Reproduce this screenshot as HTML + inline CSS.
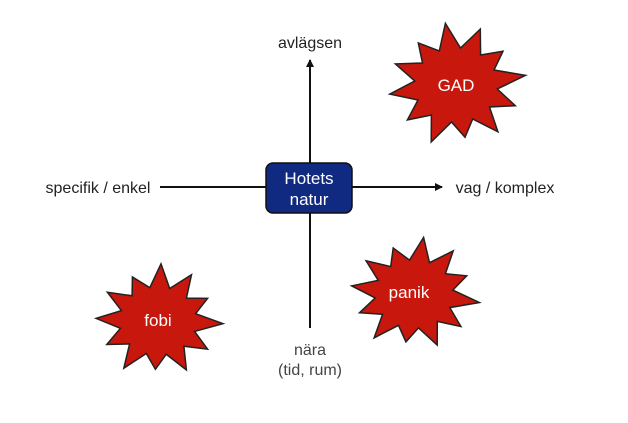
<!DOCTYPE html>
<html><head><meta charset="utf-8"><style>
html,body{margin:0;padding:0;background:#fff;}
body{width:628px;height:418px;overflow:hidden;}
text{font-family:"Liberation Sans",Arial,sans-serif;}
</style></head><body>
<svg id="s" width="628" height="418" viewBox="0 0 628 418" xmlns="http://www.w3.org/2000/svg">
<defs><marker id="a" markerWidth="8" markerHeight="8" refX="7" refY="4" orient="auto" markerUnits="userSpaceOnUse"><path d="M0,0 L8,4 L0,8 z" fill="#111"/></marker></defs>
<line x1="310" y1="328" x2="310" y2="60" stroke="#111" stroke-width="2" marker-end="url(#a)"/>
<line x1="160" y1="187" x2="442" y2="187" stroke="#111" stroke-width="2" marker-end="url(#a)"/>
<rect x="266" y="163" width="86" height="50" rx="7" fill="#0f2a80" stroke="#111" stroke-width="1.5"/>
<text x="309" y="184" font-size="17" fill="#fff" text-anchor="middle">Hotets</text>
<text x="309" y="205" font-size="17" fill="#fff" text-anchor="middle">natur</text>
<text x="310" y="48" font-size="16" fill="#222" text-anchor="middle">avlägsen</text>
<text x="98" y="193" font-size="16" fill="#222" text-anchor="middle">specifik / enkel</text>
<text x="505" y="193" font-size="16" fill="#222" text-anchor="middle">vag / komplex</text>
<text x="310" y="355" font-size="16" fill="#444" text-anchor="middle">nära</text>
<text x="310" y="375" font-size="16" fill="#444" text-anchor="middle">(tid, rum)</text>
<g id="stars"></g>
<text x="456" y="91" font-size="17" fill="#fff" text-anchor="middle">GAD</text>
<text x="409" y="298" font-size="17" fill="#fff" text-anchor="middle">panik</text>
<text x="158" y="326" font-size="17" fill="#fff" text-anchor="middle">fobi</text>
</svg>
<script>
function star(cx,cy,rx,ry,n,rot){
 var p=[];var irr=[1,0.9,1.05,0.95,1,0.88,1.02,0.93,1,0.97,0.9,1.04,0.95,1];
 for(var i=0;i<2*n;i++){var a=rot+Math.PI*i/n;var o=i%2==0;var k=o?irr[(i/2)%irr.length]:0.62;
 p.push((cx+Math.cos(a)*rx*k).toFixed(1)+","+(cy+Math.sin(a)*ry*k).toFixed(1));}
 return '<polygon points="'+p.join(" ")+'" fill="#c8170d" stroke="#222" stroke-width="1.5" stroke-linejoin="miter"/>';
}
document.getElementById("stars").innerHTML=star(456,85,67,60,12,-1.2)+star(414,294,63,55,12,-0.9)+star(158,321,62,55,12,-1.0);
</script>
</body></html>
